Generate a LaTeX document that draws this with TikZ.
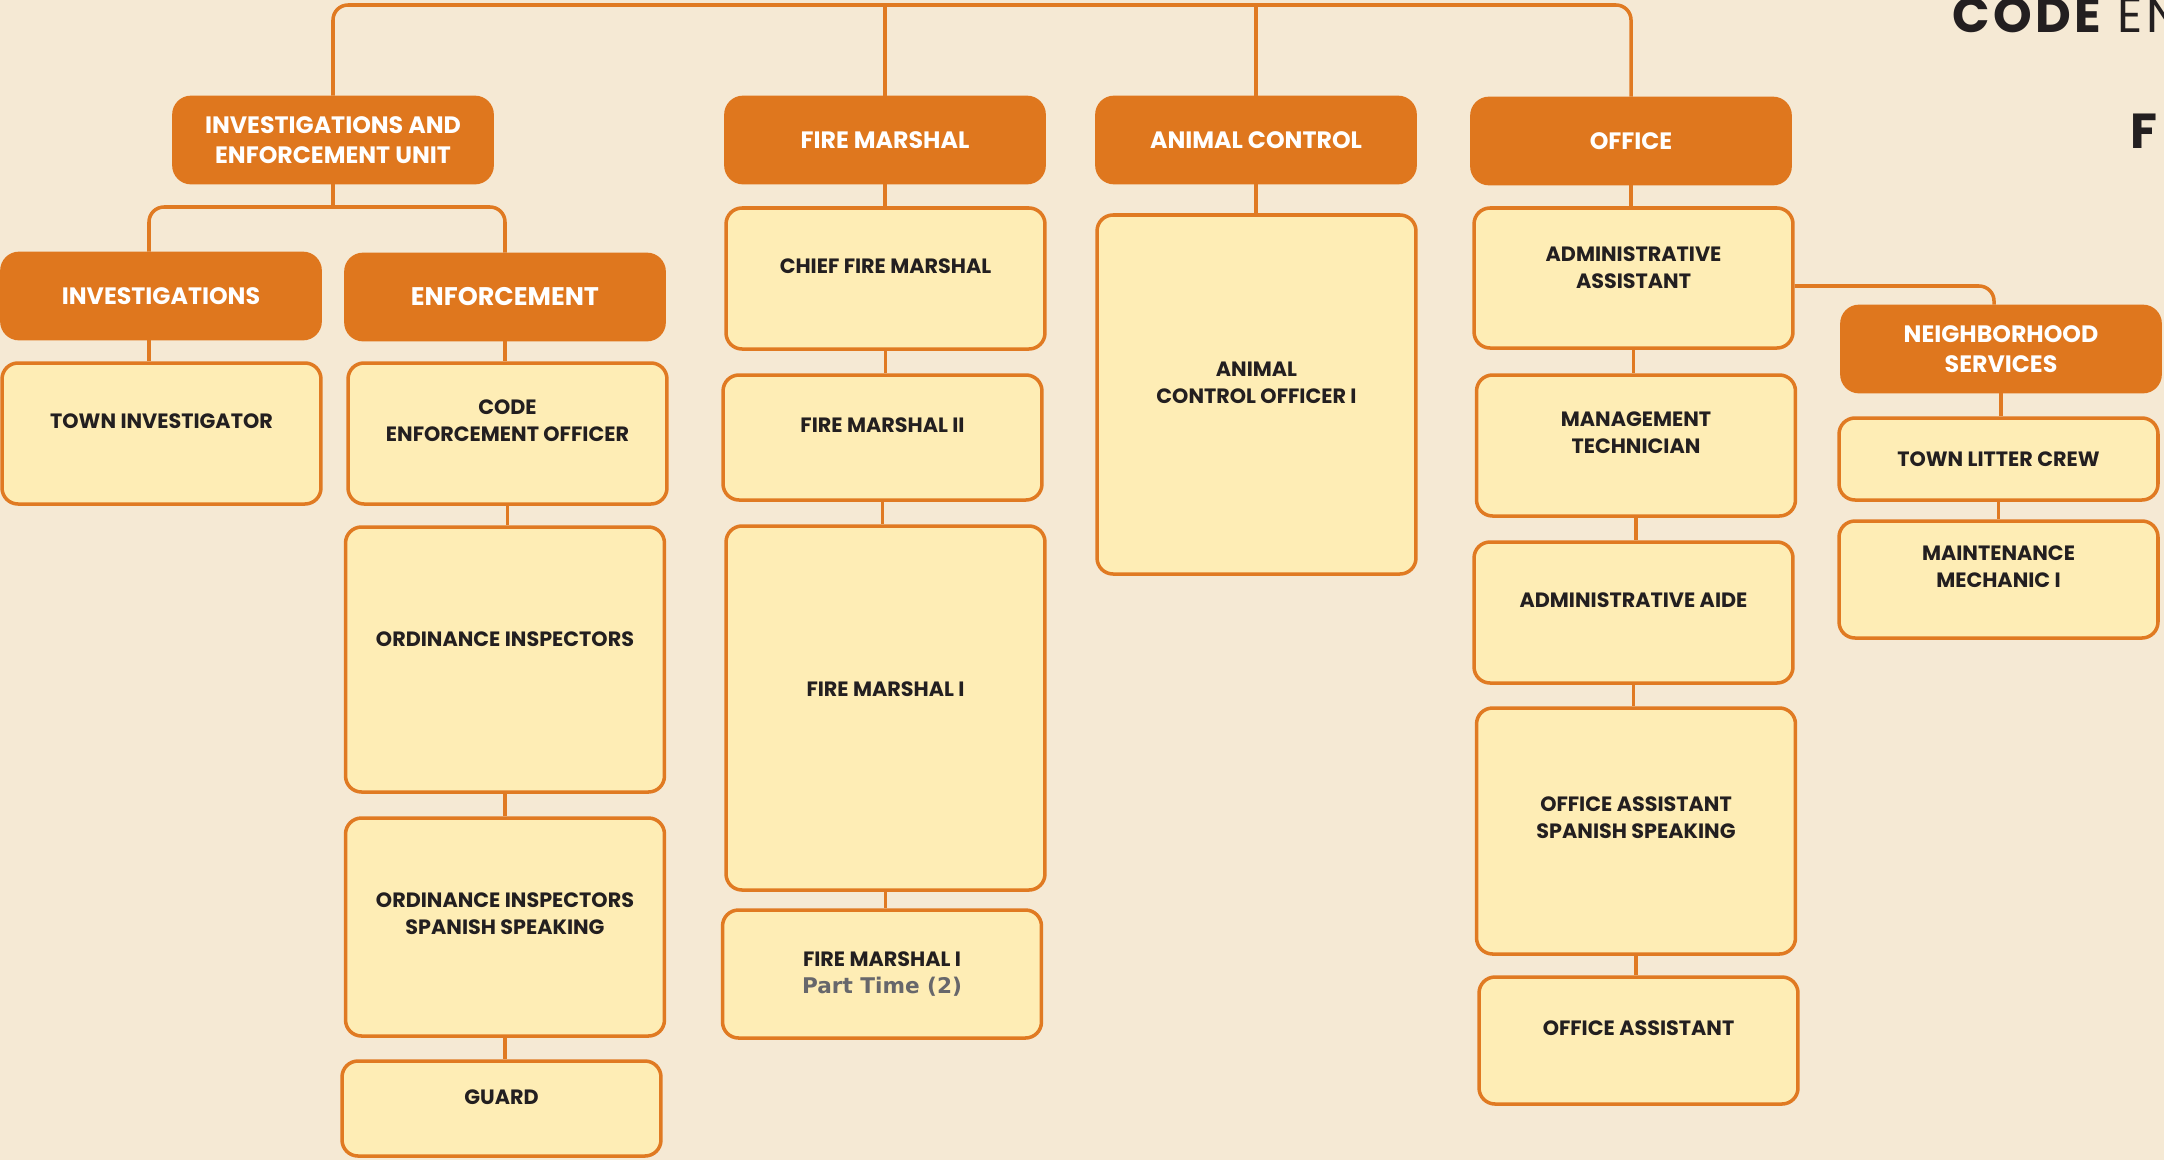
\documentclass[tikz,border=0pt]{standalone}
\usepackage{fontspec}
\setmainfont{Poppins}
\newfontfamily\ptfont{DejaVu Sans}
\usepackage{tikz}
\usetikzlibrary{positioning,calc}
\definecolor{paper}{HTML}{F5E9D4}
\definecolor{headorange}{HTML}{DF771E}
\definecolor{boxfill}{HTML}{FEEDB5}
\definecolor{boxline}{HTML}{E07A22}
\definecolor{ink}{HTML}{231F20}
\definecolor{ptgray}{HTML}{67676B}
\tikzset{
  headbox/.style={
    fill=headorange, draw=headorange, line width=1pt, rounded corners=0.36cm,
    minimum width=6.4cm, minimum height=1.74cm, inner sep=0pt,
    text=white, align=center, font=\bfseries\fontsize{13.5}{17}\selectfont
  },
  jobbox/.style={
    fill=boxfill, draw=boxline, line width=2pt, rounded corners=0.32cm,
    minimum width=6.38cm, inner sep=0pt
  },
  jobtext/.style={
    text=ink, align=center, inner sep=0pt,
    font=\bfseries\fontsize{11.8}{15.4}\selectfont
  },
  link/.style={draw=boxline, line width=2pt, rounded corners=0.3cm},
  titletext/.style={
    text=ink, inner sep=0pt, anchor=base west,
    font=\fontsize{28}{30}\selectfont\addfontfeatures{LetterSpace=7}
  }
}

\begin{document}
\begin{tikzpicture}[x=0.02cm,y=-0.02cm]
  \useasboundingbox (0,0) rectangle (2164,1160);
  \clip (0,0) rectangle (2164,1160);
  \fill[paper] (0,0) rectangle (2164,1160);

  % unit heads
  \foreach \nm/\x/\y/\lab in {ieu/333/140/{INVESTIGATIONS AND\\ENFORCEMENT UNIT},
      fm/885/140/FIRE MARSHAL, ac/1256/140/ANIMAL CONTROL, off/1631/141/OFFICE,
      inv/161/296/INVESTIGATIONS, ns/2001/349/{NEIGHBORHOOD\\SERVICES}} {
    \node[headbox] (\nm) at (\x,\y) {\lab};
  }
  \node[headbox,font=\bfseries\fontsize{14.5}{17}\selectfont] (enf) at (505,297) {ENFORCEMENT};

  % positions
  \foreach \nm/\x/\y/\h/\dy/\lab in {
      ti/161.5/433.5/141/12/TOWN INVESTIGATOR,
      ceo/507.5/433.5/141/13/{CODE\\ENFORCEMENT OFFICER},
      oi/505/659.5/265/20/ORDINANCE INSPECTORS,
      ois/505/927/218/13/{ORDINANCE INSPECTORS\\SPANISH SPEAKING},
      grd/501.5/1108.5/95/11/GUARD,
      cfm/885.5/278.5/141/12/CHIEF FIRE MARSHAL,
      fm2/882.5/437.5/125/12/FIRE MARSHAL II,
      fm1/885.5/708/364/19/FIRE MARSHAL I,
      fmpt/882/974/128/0/{FIRE MARSHAL I\\{\color{ptgray}\ptfont\bfseries\fontsize{12.3}{16}\selectfont Part Time (2)}},
      aco/1256.5/394.5/359/12/{ANIMAL\\CONTROL OFFICER I},
      aa/1633.5/278/140/10/{ADMINISTRATIVE\\ASSISTANT},
      mt/1636/445.5/141/13/{MANAGEMENT\\TECHNICIAN},
      aide/1633.5/612.5/141/12/ADMINISTRATIVE AIDE,
      oas/1636/831/246/13/{OFFICE ASSISTANT\\SPANISH SPEAKING},
      oa/1638.5/1040.5/127/12/OFFICE ASSISTANT,
      tlc/1998.5/459/82/0/TOWN LITTER CREW,
      mm/1998.5/579.5/117/13/{MAINTENANCE\\MECHANIC I}} {
    \node[jobbox,minimum height={\h*0.02cm}] (\nm) at (\x,\y) {};
    \node[jobtext] (\nm-t) at ([yshift={\dy*0.02cm}]\nm.center) {\lab};
  }

  % connectors
  \coordinate (bus) at (0,5);
  \coordinate (ieubr) at (0,207);
  \draw[link] (ieu.north) |- (bus -| off.north) -- (off.north);
  \draw[link] (fm.north) -- (fm.north |- bus);
  \draw[link] (ac.north) -- (ac.north |- bus);
  \draw[link] (ieu.south) -- (ieu.south |- ieubr);
  \draw[link] ([xshift=-0.24cm]inv.north) |- (ieubr -| enf.north) -- (enf.north);
  \draw[link] ([xshift=-0.24cm]inv.south) -- ([xshift=-0.24cm]inv.south |- ti.north);
  \foreach \a/\b in {enf/ceo,ceo/oi,oi/ois,ois/grd,fm/cfm,cfm/fm2,fm2/fm1,fm1/fmpt,
      ac/aco,off/aa,aa/mt,mt/aide,aide/oas,oas/oa,ns/tlc,tlc/mm}
    \draw[link] (\a.south) -- (\a.south |- \b.north);
  \draw[link] ([yshift=-0.16cm]aa.east) -| ([xshift=-0.14cm]ns.north);

  % title
  \node[titletext] (ttl) at (1952,32) {{\bfseries CODE} ENFORCEMENT};
  \node[titletext,font=\bfseries\fontsize{28}{30}\selectfont] (sub) at (2130,148) {F};
\end{tikzpicture}
\end{document}
